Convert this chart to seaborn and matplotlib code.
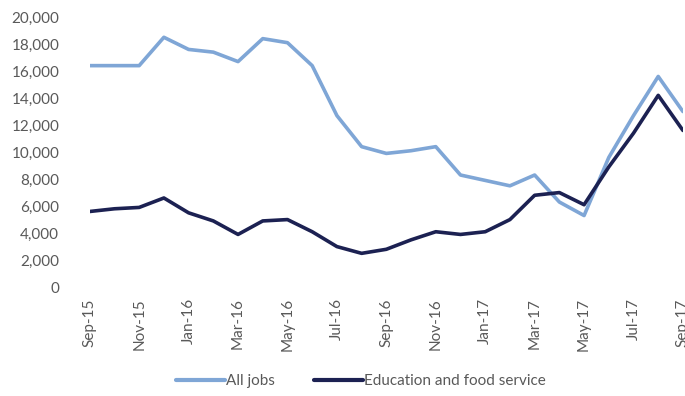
import matplotlib
matplotlib.use("Agg")
import matplotlib.pyplot as plt
import pandas as pd
import seaborn as sns

months = ["Sep-15", "Oct-15", "Nov-15", "Dec-15", "Jan-16", "Feb-16", "Mar-16",
          "Apr-16", "May-16", "Jun-16", "Jul-16", "Aug-16", "Sep-16", "Oct-16",
          "Nov-16", "Dec-16", "Jan-17", "Feb-17", "Mar-17", "Apr-17", "May-17",
          "Jun-17", "Jul-17", "Aug-17", "Sep-17"]

all_jobs = [16400, 16400, 16400, 18500, 17600, 17400, 16700, 18400, 18100, 16400,
            12700, 10400, 9900, 10100, 10400, 8300, 7900, 7500, 8300, 6300,
            5300, 9600, 12700, 15600, 13000]

education_food = [5600, 5800, 5900, 6600, 5500, 4900, 3900, 4900, 5000, 4100,
                  3000, 2500, 2800, 3500, 4100, 3900, 4100, 5000, 6800, 7000,
                  6100, 8900, 11400, 14200, 11600]

series_names = ["All jobs", "Education and food service"]
colors = ["#7FA6D6", "#1C2152"]

df = pd.DataFrame({
    "idx": list(range(len(months))) * 2,
    "value": all_jobs + education_food,
    "series": [series_names[0]] * len(months) + [series_names[1]] * len(months),
})

sns.set_style("white")
plt.rcParams["font.family"] = ["Lato", "DejaVu Sans"]

fig = plt.figure(figsize=(6.85, 3.96), dpi=100)
ax = fig.add_axes([0.131, 0.275, 0.866, 0.682])

sns.lineplot(data=df, x="idx", y="value", hue="series", palette=colors,
             linewidth=2.6, ax=ax, legend=False)

ax.set_xlim(0, 24)
ax.set_ylim(0, 20000)
ax.set_yticks(range(0, 20001, 2000))
ax.set_yticklabels([f"{v:,}" for v in range(0, 20001, 2000)])
ax.set_xticks(range(0, len(months), 2))
ax.set_xticklabels(months[::2], rotation=90)
ax.tick_params(axis="both", length=0, colors="#595959", labelsize=11)
ax.tick_params(axis="y", pad=22)
ax.tick_params(axis="x", pad=8)
ax.set_xlabel("")
ax.set_ylabel("")
for s in ax.spines.values():
    s.set_visible(False)

handles = [plt.Line2D([], [], color=c, linewidth=3) for c in colors]
fig.legend(handles, series_names, loc="lower center", bbox_to_anchor=(0.527, -0.015),
           ncol=2, frameon=False, fontsize=11, handlelength=3.2, handletextpad=0.05,
           columnspacing=2.6, labelcolor="#595959")

fig.savefig("out.png", dpi=100)
